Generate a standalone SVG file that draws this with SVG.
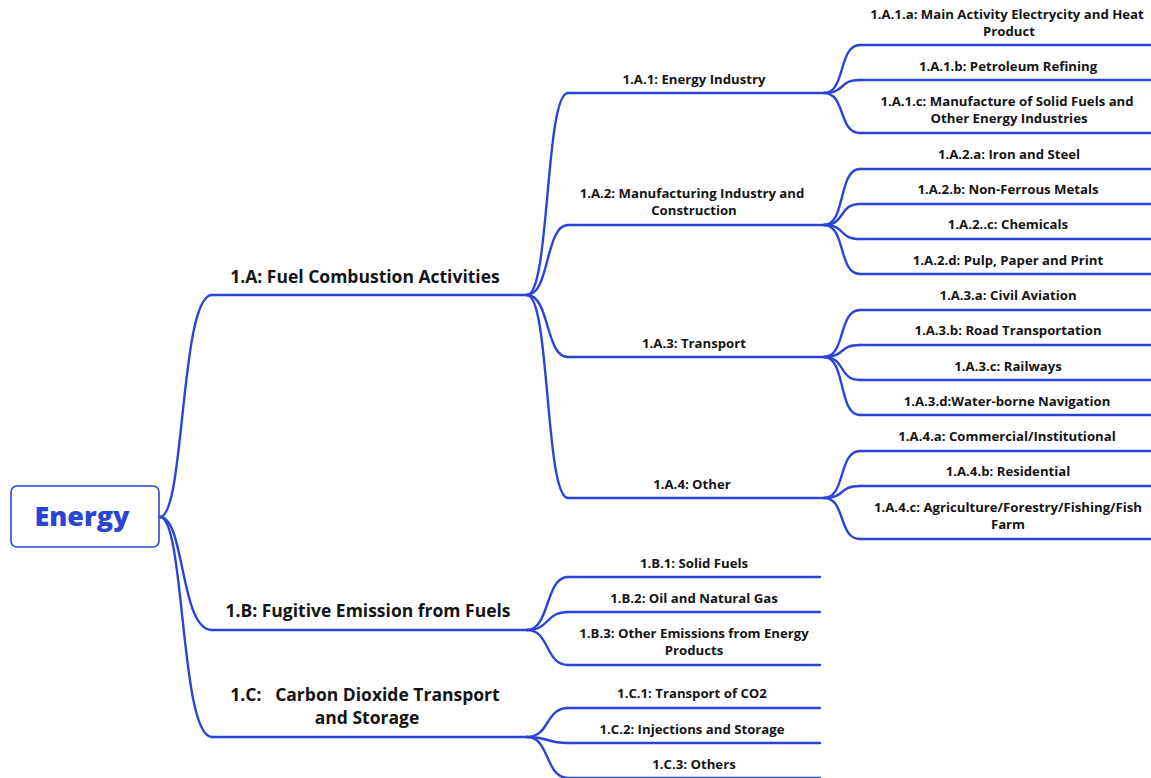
<svg xmlns="http://www.w3.org/2000/svg" width="1151" height="778" viewBox="0 0 1151 778">
<style>
.ln{fill:none;stroke:#2a45d6;stroke-width:2.4;stroke-linecap:round}
.t1{font-family:"Open Sans","Liberation Sans",sans-serif;font-weight:700;font-size:17.5px;fill:#141414;text-anchor:middle}
.t2{font-family:"Open Sans","Liberation Sans",sans-serif;font-weight:700;font-size:13.2px;fill:#141414;text-anchor:middle}
.root{font-family:"Open Sans","Liberation Sans",sans-serif;font-weight:800;font-size:27px;fill:#2a45d6;text-anchor:middle}
</style>
<rect width="1151" height="778" fill="#ffffff"/>
<g id="connectors" class="ln">
<path d="M160,517 C185,517 180,295 212,295"/>
<path d="M160,517 C185,517 180,630 212,630"/>
<path d="M160,517 C185,517 180,737 212,737"/>
<path d="M527,295 C550,295 545,93 568,93"/>
<path d="M527,295 C550,295 545,225 568,225"/>
<path d="M527,295 C550,295 545,357 568,357"/>
<path d="M527,295 C550,295 545,498 568,498"/>
<path d="M527,630 C550,630 545,577 568,577"/>
<path d="M527,630 C550,630 545,612 568,612"/>
<path d="M527,630 C550,630 545,665 568,665"/>
<path d="M527,737 C550,737 545,708 568,708"/>
<path d="M527,737 C550,737 545,743 568,743"/>
<path d="M527,737 C550,737 545,778 568,778"/>
<path d="M824,93 C846,93 838,45 860,45"/>
<path d="M824,93 C846,93 838,80 860,80"/>
<path d="M824,93 C846,93 838,133 860,133"/>
<path d="M824,225 C846,225 838,169 860,169"/>
<path d="M824,225 C846,225 838,204 860,204"/>
<path d="M824,225 C846,225 838,239 860,239"/>
<path d="M824,225 C846,225 838,274 860,274"/>
<path d="M824,357 C846,357 838,310 860,310"/>
<path d="M824,357 C846,357 838,345 860,345"/>
<path d="M824,357 C846,357 838,380 860,380"/>
<path d="M824,357 C846,357 838,415 860,415"/>
<path d="M824,498 C846,498 838,451 860,451"/>
<path d="M824,498 C846,498 838,486 860,486"/>
<path d="M824,498 C846,498 838,539 860,539"/>
</g>
<g id="root">
<rect x="11" y="486" width="148" height="61" rx="6" fill="#ffffff" stroke="#2a45d6" stroke-width="1.6"/>
<text class="root" x="82" y="526">Energy</text>
</g>
<g id="n1A"><path class="ln" d="M212,295 H527"/><text class="t1" x="365" y="283">1.A: Fuel Combustion Activities</text></g>
<g id="n1B"><path class="ln" d="M212,630 H527"/><text class="t1" x="368" y="617">1.B: Fugitive Emission from Fuels</text></g>
<g id="n1C"><path class="ln" d="M212,737 H527"/><text class="t1" x="365" y="701" xml:space="preserve">1.C:   Carbon Dioxide Transport</text><text class="t1" x="367" y="724">and Storage</text></g>
<g id="n1A1"><path class="ln" d="M568,93 H824"/><text class="t2" x="694" y="84">1.A.1: Energy Industry</text></g>
<g id="n1A2"><path class="ln" d="M568,225 H824"/><text class="t2" x="692" y="198">1.A.2: Manufacturing Industry and</text><text class="t2" x="694" y="215">Construction</text></g>
<g id="n1A3"><path class="ln" d="M568,357 H824"/><text class="t2" x="694" y="348">1.A.3: Transport</text></g>
<g id="n1A4"><path class="ln" d="M568,498 H824"/><text class="t2" x="692" y="489">1.A.4: Other</text></g>
<g id="n1B1"><path class="ln" d="M568,577 H820"/><text class="t2" x="694" y="568">1.B.1: Solid Fuels</text></g>
<g id="n1B2"><path class="ln" d="M568,612 H820"/><text class="t2" x="694" y="603">1.B.2: Oil and Natural Gas</text></g>
<g id="n1B3"><path class="ln" d="M568,665 H820"/><text class="t2" x="694" y="638">1.B.3: Other Emissions from Energy</text><text class="t2" x="694" y="655">Products</text></g>
<g id="n1C1"><path class="ln" d="M568,708 H820"/><text class="t2" x="692" y="698">1.C.1: Transport of CO2</text></g>
<g id="n1C2"><path class="ln" d="M568,743 H820"/><text class="t2" x="692" y="734">1.C.2: Injections and Storage</text></g>
<g id="n1C3"><path class="ln" d="M568,778 H820"/><text class="t2" x="694" y="769">1.C.3: Others</text></g>
<g id="n1A1a"><path class="ln" d="M860,45 H1151"/><text class="t2" x="1007" y="19">1.A.1.a: Main Activity Electrycity and Heat</text><text class="t2" x="1009" y="36">Product</text></g>
<g id="n1A1b"><path class="ln" d="M860,80 H1151"/><text class="t2" x="1008" y="71">1.A.1.b: Petroleum Refining</text></g>
<g id="n1A1c"><path class="ln" d="M860,133 H1151"/><text class="t2" x="1007" y="106">1.A.1.c: Manufacture of Solid Fuels and</text><text class="t2" x="1009" y="123">Other Energy Industries</text></g>
<g id="n1A2a"><path class="ln" d="M860,169 H1151"/><text class="t2" x="1009" y="159">1.A.2.a: Iron and Steel</text></g>
<g id="n1A2b"><path class="ln" d="M860,204 H1151"/><text class="t2" x="1008" y="194">1.A.2.b: Non-Ferrous Metals</text></g>
<g id="n1A2c"><path class="ln" d="M860,239 H1151"/><text class="t2" x="1008" y="229">1.A.2..c: Chemicals</text></g>
<g id="n1A2d"><path class="ln" d="M860,274 H1151"/><text class="t2" x="1008" y="265">1.A.2.d: Pulp, Paper and Print</text></g>
<g id="n1A3a"><path class="ln" d="M860,310 H1151"/><text class="t2" x="1008" y="300">1.A.3.a: Civil Aviation</text></g>
<g id="n1A3b"><path class="ln" d="M860,345 H1151"/><text class="t2" x="1008" y="335">1.A.3.b: Road Transportation</text></g>
<g id="n1A3c"><path class="ln" d="M860,380 H1151"/><text class="t2" x="1008" y="371">1.A.3.c: Railways</text></g>
<g id="n1A3d"><path class="ln" d="M860,415 H1151"/><text class="t2" x="1007" y="406">1.A.3.d:Water-borne Navigation</text></g>
<g id="n1A4a"><path class="ln" d="M860,451 H1151"/><text class="t2" x="1007" y="441">1.A.4.a: Commercial/Institutional</text></g>
<g id="n1A4b"><path class="ln" d="M860,486 H1151"/><text class="t2" x="1008" y="476">1.A.4.b: Residential</text></g>
<g id="n1A4c"><path class="ln" d="M860,539 H1151"/><text class="t2" x="1008" y="512">1.A.4.c: Agriculture/Forestry/Fishing/Fish</text><text class="t2" x="1008" y="529">Farm</text></g>
</svg>
